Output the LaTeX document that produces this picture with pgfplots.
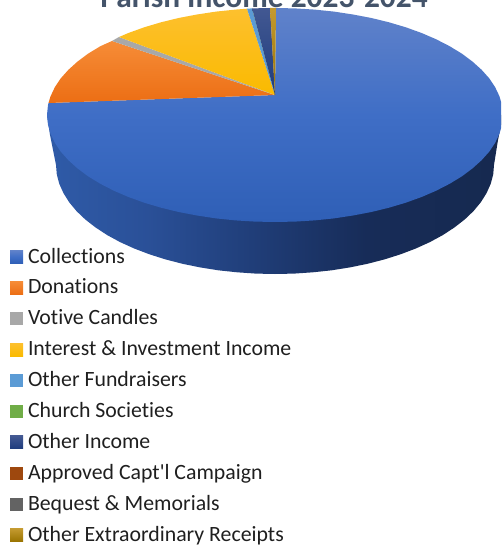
\documentclass[border=0pt]{standalone}
\usepackage{pgfplots}
\pgfplotsset{compat=1.18}
\usepackage{fontspec}
\newfontfamily\carl{Carlito}[Ligatures=NoCommon]

\definecolor{titlecol}{HTML}{44546A}
\definecolor{sa}{HTML}{2F5BA8}
\definecolor{sb}{HTML}{2A5098}
\definecolor{sc}{HTML}{1E3A72}
\definecolor{sd}{HTML}{172C58}
\definecolor{se}{HTML}{16294F}
\pgfdeclarehorizontalshading{sidegrad}{100bp}{color(0bp)=(sa); color(25bp)=(sa); color(36bp)=(sb); color(50bp)=(sc); color(60bp)=(sd); color(75bp)=(se); color(100bp)=(se)}

\begin{document}
\begin{tikzpicture}
\begin{axis}[
    scale only axis,
    width=501pt,
    height=548pt,
    xmin=0, xmax=501,
    ymin=0, ymax=548,
    y dir=reverse,
    axis lines=none,
    legend image code/.code={\path[#1] (0pt,-5pt) rectangle (13pt,8pt);},
    legend cell align=left,
    legend style={
      at={(axis cs:10,249)}, anchor=north west,
      draw=none, fill=none, inner sep=0pt, outer sep=0pt,
      row sep=11.9pt,
      nodes={inner sep=0pt, text height=14pt, text depth=5pt, font=\carl\fontsize{21.8}{24}\selectfont, text=black!88},
      /tikz/every odd column/.append style={column sep=5pt},
    },
]
% side of the disc
\addplot[draw=none, shade, shading=sidegrad, forget plot] coordinates {
 (503,115) (498,140) (494,165) (493.2,174.5) (490.7,183.9) (486.5,193.2) (480.8,202.3) (473.5,211.1)
 (464.7,219.5) (454.4,227.5) (442.8,235.1) (429.9,242.1) (415.8,248.5) (400.6,254.3) (384.5,259.4)
 (367.5,263.8) (349.9,267.4) (331.7,270.3) (313,272.3) (294.1,273.6) (275,274) (255.9,273.6)
 (237,272.3) (218.3,270.3) (200.1,267.4) (182.5,263.8) (165.5,259.4) (149.4,254.3) (134.2,248.5)
 (120.1,242.1) (107.2,235.1) (95.6,227.5) (85.3,219.5) (76.5,211.1) (69.2,202.3) (63.5,193.2)
 (59.3,183.9) (56.8,174.5) (56,165) (50,135) (47,115)
};
% Collections
\addplot[draw=none, top color={rgb,255:red,96;green,130;blue,202}, bottom color={rgb,255:red,47;green,95;blue,182}, middle color={rgb,255:red,63;green,110;blue,198}] coordinates {
 (275,95) (276,8) (294.9,8.4) (314.6,9.6) (334,11.6) (353,14.5) (371.4,18) (389,22.3) (405.8,27.3)
 (421.6,33) (436.2,39.3) (449.6,46.2) (461.8,53.6) (472.4,61.5) (481.6,69.8) (489.3,78.4) (495.2,87.3)
 (499.5,96.4) (502.1,105.7) (503,115) (502.1,124.3) (499.5,133.6) (495.2,142.7) (489.3,151.6)
 (481.6,160.2) (472.4,168.5) (461.8,176.4) (449.6,183.8) (436.2,190.7) (421.6,197) (405.8,202.7)
 (389,207.7) (371.4,212) (353,215.5) (334,218.4) (314.6,220.4) (294.9,221.6) (275,222) (255.1,221.6)
 (235.4,220.4) (216,218.4) (197,215.5) (178.6,212) (161,207.7) (144.2,202.7) (128.4,197) (113.8,190.7)
 (100.4,183.8) (88.2,176.4) (77.6,168.5) (68.4,160.2) (60.7,151.6) (54.8,142.7) (50.5,133.6)
 (47.9,124.3) (47,115) (47.9,105.7) (48.5,103)
};
\addlegendentry{Collections}
% Donations
\addplot[draw=none, top color={rgb,255:red,246;green,140;blue,55}, bottom color={rgb,255:red,236;green,110;blue,20}] coordinates {
 (275,95) (48.5,103) (50.5,96.4) (54.8,87.3) (60.7,78.4) (68.4,69.8) (77.6,61.5) (88.2,53.6) (100.4,46.2) (112,41)
};
\addlegendentry{Donations}
% Votive Candles
\addplot[draw=none, fill={rgb,255:red,168;green,168;blue,168}] coordinates {
 (275,95) (112,41) (119,37)
};
\addlegendentry{Votive Candles}
% Interest & Investment Income
\addplot[draw=none, top color={rgb,255:red,253;green,192;blue,46}, bottom color={rgb,255:red,250;green,186;blue,0}] coordinates {
 (275,95) (119,37) (128.4,33) (144.2,27.3) (161,22.3) (178.6,18) (197,14.5) (216,11.6) (235.4,9.6) (247,8.7)
};
\addlegendentry{Interest \& Investment Income}
% Other Fundraisers
\addplot[draw=none, fill={rgb,255:red,91;green,155;blue,213}] coordinates {
 (275,95) (247,8.7) (252,8.4)
};
\addlegendentry{Other Fundraisers}
% Church Societies
\addplot[draw=none, fill={rgb,255:red,112;green,173;blue,71}] coordinates {
 (275,95) (252,8.4) (252.1,8.4)
};
\addlegendentry{Church Societies}
% Other Income
\addplot[draw=none, top color={rgb,255:red,66;green,88;blue,146}, bottom color={rgb,255:red,30;green,60;blue,125}] coordinates {
 (275,95) (252.1,8.4) (270,8)
};
\addlegendentry{Other Income}
% Approved Capt'l Campaign
\addplot[draw=none, fill={rgb,255:red,158;green,72;blue,14}] coordinates {
 (275,95) (270,8) (270.1,8)
};
\addlegendentry{Approved Capt'l Campaign}
% Bequest & Memorials
\addplot[draw=none, fill={rgb,255:red,99;green,99;blue,99}] coordinates {
 (275,95) (270.1,8) (270.2,8)
};
\addlegendentry{Bequest \& Memorials}
% Other Extraordinary Receipts
\addplot[draw=none, top color={rgb,255:red,196;green,154;blue,48}, bottom color={rgb,255:red,153;green,115;blue,0}] coordinates {
 (275,95) (270.2,8) (276,8)
};
\addlegendentry{Other Extraordinary Receipts}
\node[anchor=base, inner sep=0pt, font=\carl\fontsize{31.4}{34}\selectfont\bfseries, text=titlecol] at (axis cs:264,8) {Parish Income 2023-2024};
\end{axis}
\pgfresetboundingbox
\path[use as bounding box] (0,0) rectangle (501pt,548pt);
\end{tikzpicture}
\end{document}
